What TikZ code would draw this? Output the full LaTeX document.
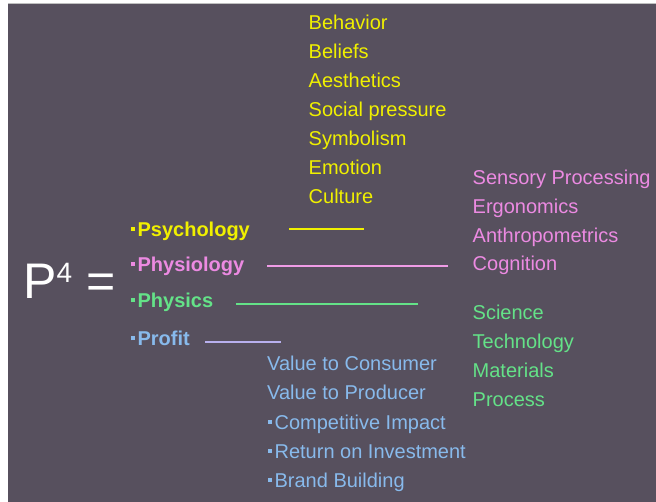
\documentclass[tikz,border=0pt]{standalone}
\usepackage{fontspec}
\setmainfont{Liberation Sans}
\definecolor{bgslate}{RGB}{87,80,94}
\definecolor{psyyellow}{RGB}{240,240,0}
\definecolor{phypink}{RGB}{236,138,226}
\definecolor{phsgreen}{RGB}{100,226,136}
\definecolor{problue}{RGB}{136,186,236}
\definecolor{prolilac}{RGB}{184,176,238}
\newcommand{\sqdot}{\rule[.28em]{.2em}{.2em}\hspace{.12em}}
\begin{document}
\begin{tikzpicture}[x=1pt,y=-1pt,
                    item/.style = {anchor=base west, inner sep=0pt, font=\fontsize{20}{24}\selectfont},
                    head/.style = {item, font=\fontsize{20}{24}\selectfont\bfseries},
                    bar/.style  = {line width=2pt}]
                    \useasboundingbox (0,0) rectangle (656,502);
                    \fill[white] (0,0) rectangle (656,502);
                    \fill[bgslate] (8,3) rectangle (656,502);
                    \draw[black!25, line width=1pt] (8,3.5) -- (656,3.5);

                    \node[item, white, anchor=base west, font=\fontsize{50}{50}\selectfont] (lhs) at (23,299)
                        {P\raisebox{16pt}{\fontsize{28}{28}\selectfont 4} =};

                    \node[head, psyyellow] (psy) at (131,236.5) {\sqdot Psychology};
                    \node[head, phypink]   (phy) at (131,272)   {\sqdot Physiology};
                    \node[head, phsgreen]  (phs) at (131,308)   {\sqdot Physics};
                    \node[head, problue]   (pro) at (131,346)   {\sqdot Profit};

                    \coordinate (psyA) at (289,229);   \coordinate (psyB) at (364,229);
                    \coordinate (phyA) at (267,266.5); \coordinate (phyB) at (448,266.5);
                    \coordinate (phsA) at (236,304);   \coordinate (phsB) at (418,304);
                    \coordinate (proA) at (205,342.5); \coordinate (proB) at (281,342.5);
                    \draw[bar, psyyellow] (psyA) -- (psyB);
                    \draw[bar, phypink!85!white] (phyA) -- (phyB);
                    \draw[bar, phsgreen] (phsA) -- (phsB);
                    \draw[bar, prolilac] (proA) -- (proB);

                    \node[item, psyyellow] (psy1) at (308.5,29.3)  {Behavior};
                    \node[item, psyyellow] (psy2) at (308.5,58.4)  {Beliefs};
                    \node[item, psyyellow] (psy3) at (308.5,87.5)  {Aesthetics};
                    \node[item, psyyellow] (psy4) at (308.5,116.6) {Social pressure};
                    \node[item, psyyellow] (psy5) at (308.5,145.7) {Symbolism};
                    \node[item, psyyellow] (psy6) at (308.5,174.8) {Emotion};
                    \node[item, psyyellow] (psy7) at (308.5,204)   {Culture};

                    \node[item, phypink] (phy1) at (472.5,185)   {Sensory Processing};
                    \node[item, phypink] (phy2) at (472.5,213.7) {Ergonomics};
                    \node[item, phypink] (phy3) at (472.5,242.4) {Anthropometrics};
                    \node[item, phypink] (phy4) at (472.5,271)   {Cognition};

                    \node[item, phsgreen] (phs1) at (472.5,320)   {Science};
                    \node[item, phsgreen] (phs2) at (472.5,348.9) {Technology};
                    \node[item, phsgreen] (phs3) at (472.5,377.8) {Materials};
                    \node[item, phsgreen] (phs4) at (472.5,406.7) {Process};

                    \node[item, problue] (pro1) at (267,370.7) {Value to Consumer};
                    \node[item, problue] (pro2) at (267,400)   {Value to Producer};
                    \node[item, problue] (pro3) at (268,429.2) {\sqdot Competitive Impact};
                    \node[item, problue] (pro4) at (268,458.5) {\sqdot Return on Investment};
                    \node[item, problue] (pro5) at (268,487.7) {\sqdot Brand Building};
\end{tikzpicture}
\end{document}
